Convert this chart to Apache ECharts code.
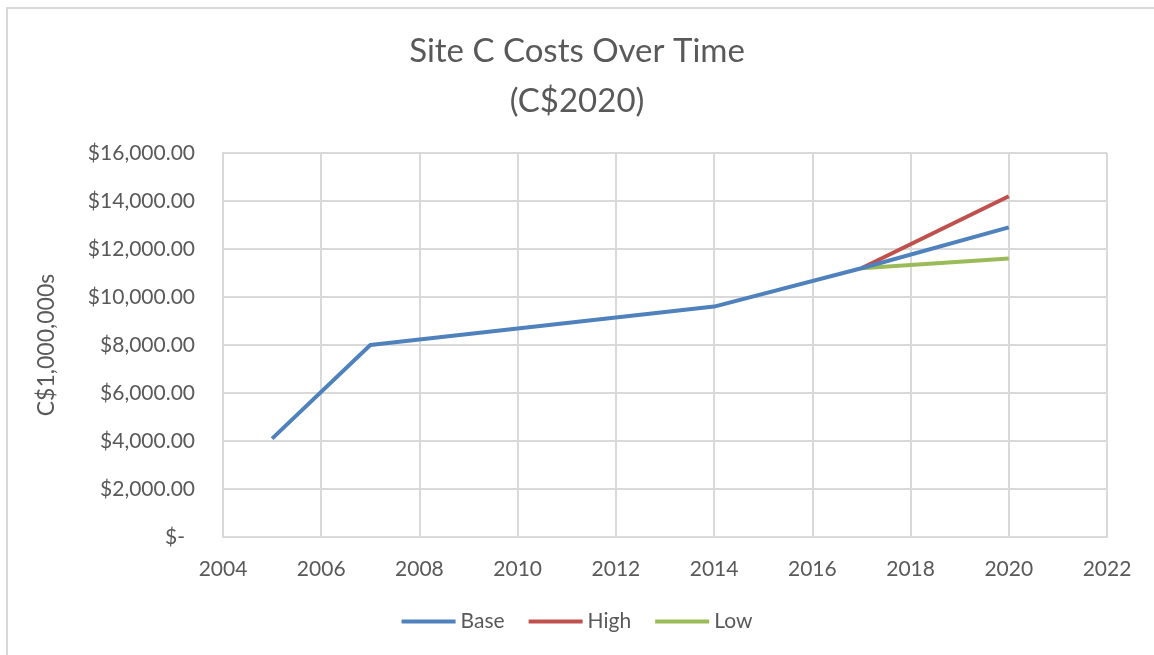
<!DOCTYPE html>
<html>
<head>
<meta charset="utf-8">
<script src="https://cdn.jsdelivr.net/npm/echarts@6/dist/echarts.min.js"></script>
<style>
 html, body { margin: 0; padding: 0; overflow: hidden; background: #fff; }
 #chart { width: 1154px; height: 655px; }
 #frame { position: absolute; left: 6px; top: 7px; width: 1300px; height: 800px;
   border: 2px solid #d9d9d9; pointer-events: none; }
</style>
</head>
<body>
<div id="chart"></div>
<div id="frame"></div>
<script>
// values in C$ millions (2020 dollars)
var baseYears = [2005, 2007, 2014, 2017, 2020];
var baseCosts = [4100, 8000, 9600, 11200, 12900];
var highYears = [2017, 2020];
var highCosts = [11200, 14200];
var lowYears = [2017, 2020];
var lowCosts = [11200, 11600];

function pairs(xs, ys) {
  return xs.map(function (x, i) { return [x, ys[i]]; });
}

var txt = '#595959';
var font = 'Lato, "Open Sans", sans-serif';

var myChart = echarts.init(document.getElementById('chart'));

myChart.setOption({
  animation: false,
  title: {
    text: 'Site C Costs Over Time\n(C$2020)',
    left: 'center',
    top: 21,
    textStyle: { color: txt, fontFamily: font, fontWeight: 'normal', fontSize: 33, lineHeight: 50 }
  },
  legend: {
    bottom: 18,
    left: 'center',
    itemWidth: 54,
    itemHeight: 4,
    itemGap: 24,
    icon: 'rect',
    textStyle: { color: txt, fontFamily: font, fontSize: 21 },
    data: ['Base', 'High', 'Low']
  },
  grid: { left: 223, right: 47, top: 153, bottom: 118 },
  xAxis: {
    type: 'value',
    min: 2004, max: 2022, interval: 2,
    axisLine: { show: true, lineStyle: { color: '#d9d9d9', width: 2 } },
    axisTick: { show: false },
    splitLine: { show: true, lineStyle: { color: '#d9d9d9', width: 2 } },
    axisLabel: { color: txt, fontFamily: font, fontSize: 21, margin: 22,
      formatter: function (v) { return String(v); } }
  },
  yAxis: {
    type: 'value',
    min: 0, max: 16000, interval: 2000,
    name: 'C$1,000,000s',
    nameLocation: 'middle',
    nameGap: 165,
    nameTextStyle: { color: txt, fontFamily: font, fontSize: 23 },
    axisLine: { show: true, lineStyle: { color: '#d9d9d9', width: 2 } },
    axisTick: { show: false },
    splitLine: { show: true, lineStyle: { color: '#d9d9d9', width: 2 } },
    axisLabel: {
      color: txt, fontFamily: font, fontSize: 21, margin: 28,
      formatter: function (v) {
        if (v === 0) return '{d|$-}';
        return '$' + v.toLocaleString('en-US', { minimumFractionDigits: 2, maximumFractionDigits: 2 });
      },
      rich: { d: { color: txt, fontFamily: font, fontSize: 21, padding: [0, 10, 0, 0] } }
    }
  },
  series: [
    { name: 'High', type: 'line', data: pairs(highYears, highCosts), showSymbol: false,
      itemStyle: { color: '#c0504d' }, lineStyle: { color: '#c0504d', width: 4 } },
    { name: 'Low', type: 'line', data: pairs(lowYears, lowCosts), showSymbol: false,
      itemStyle: { color: '#9bbb59' }, lineStyle: { color: '#9bbb59', width: 4 } },
    { name: 'Base', type: 'line', data: pairs(baseYears, baseCosts), showSymbol: false,
      itemStyle: { color: '#4f81bd' }, lineStyle: { color: '#4f81bd', width: 4 } }
  ]
});
</script>
</body>
</html>
